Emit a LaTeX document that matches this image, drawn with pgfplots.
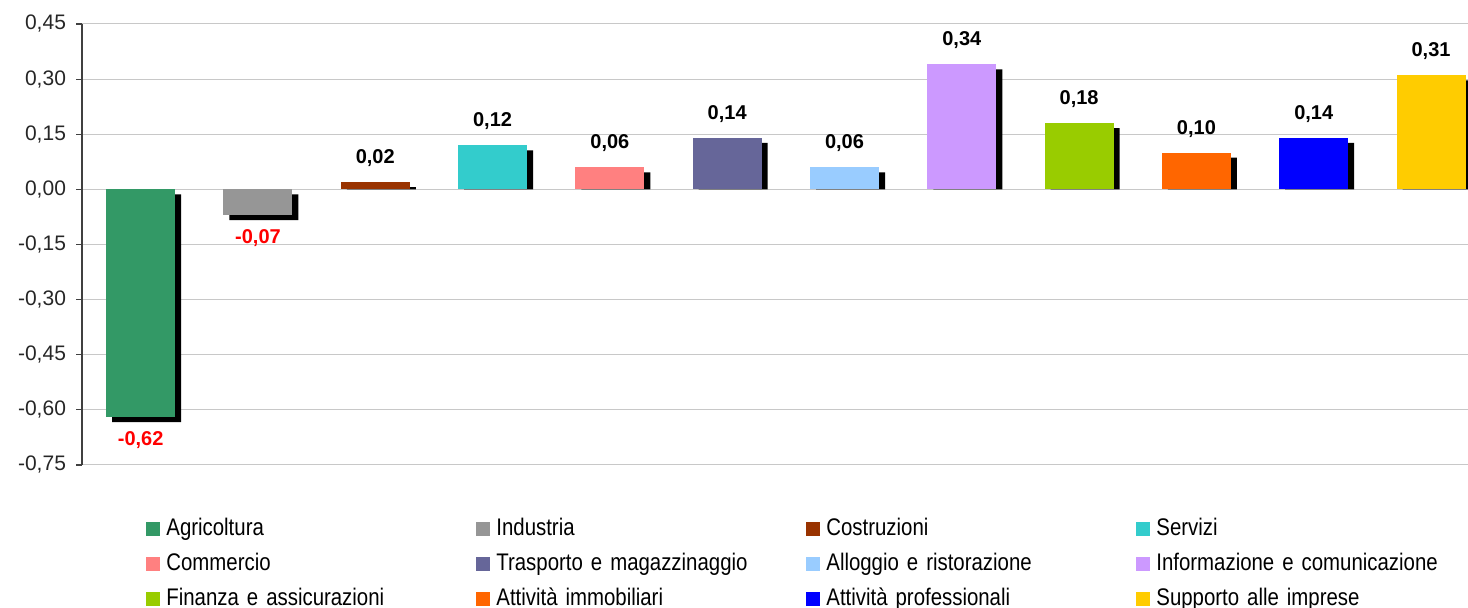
\documentclass[border=0pt]{standalone}
\usepackage{fontspec}
\setmainfont{Liberation Sans}
\newfontfamily\narrowfont{Liberation Sans}[FakeStretch=0.85]
\usepackage{pgfplots}
\pgfplotsset{compat=1.18}

\definecolor{cAgr}{HTML}{339966}
\definecolor{cInd}{HTML}{969696}
\definecolor{cCos}{HTML}{993300}
\definecolor{cSer}{HTML}{33CCCC}
\definecolor{cCom}{HTML}{FF8080}
\definecolor{cTra}{HTML}{666699}
\definecolor{cAll}{HTML}{99CCFF}
\definecolor{cInf}{HTML}{CC99FF}
\definecolor{cFin}{HTML}{99CC00}
\definecolor{cImm}{HTML}{FF6600}
\definecolor{cPro}{HTML}{0000FF}
\definecolor{cSup}{HTML}{FFCC00}
\definecolor{gridgray}{HTML}{C8C8C8}
\definecolor{axisgray}{HTML}{404040}

\newcommand{\valfmt}{\pgfmathprintnumber[fixed,fixed zerofill,precision=2,use comma,assume math mode=true]{\pgfplotspointmeta}}
\pgfplotsset{
  pos/.style={fill=#1, draw=none, nodes near coords={\valfmt},
    every node near coord/.append style={font=\bfseries\fontsize{10}{12}\selectfont,
      anchor=center, yshift=12pt, text=black}},
  neg/.style={fill=#1, draw=none, nodes near coords={\valfmt},
    every node near coord/.append style={font=\bfseries\fontsize{10}{12}\selectfont,
      anchor=center, yshift=-11.5pt, text=red}},
}

\begin{document}
\begin{tikzpicture}
\begin{axis}[
  scale only axis,
  width=693pt, height=220.5pt,
  xmin=0.5, xmax=12.315,
  ymin=-0.75, ymax=0.45,
  ytick={-0.75,-0.6,-0.45,-0.3,-0.15,0,0.15,0.3,0.45},
  yticklabel={\pgfmathprintnumber[fixed,fixed zerofill,precision=2,use comma,assume math mode=true]{\tick}},
  yticklabel style={font=\fontsize{10.5}{12}\selectfont, text=black!85, xshift=-1.5pt},
  axis x line=none,
  axis y line*=left,
  y axis line style={axisgray, line width=0.6pt, -},
  ytick style={axisgray, line width=0.6pt},
  tick align=outside, major tick length=3pt,
  ymajorgrids,
  grid style={gridgray, line width=0.5pt},
  ybar, bar width=34.5pt, bar shift=0pt,
  clip=false,
  legend columns=4,
  legend cell align=left,
  legend image code/.code={\fill[#1, draw=none] (0pt,-3.5pt) rectangle (7pt,3.5pt);},
  legend style={draw=none, fill=none, inner sep=0pt,
    at={(0,0)}, anchor=north west, xshift=32pt, yshift=-26pt,
    row sep=5.5pt,
    font=\narrowfont\fontsize{12}{14}\selectfont,
    nodes={text width=152pt, text height=9pt, text depth=3pt, inner xsep=3pt, inner ysep=0pt}},
]
% shadows
\addplot[fill=black, draw=none, bar shift=3pt, forget plot]
  coordinates {(3,0.0064) (4,0.1064) (5,0.0464) (6,0.1264) (7,0.0464) (8,0.3264) (9,0.1664) (10,0.0864) (11,0.1264) (12,0.2964)};
\addplot[fill=black, draw=none, bar shift=3pt, yshift=-2.5pt, forget plot]
  coordinates {(1,-0.62) (2,-0.07)};
% bars
\addplot[neg=cAgr] coordinates {(1,-0.62)};
\addplot[neg=cInd] coordinates {(2,-0.07)};
\addplot[pos=cCos] coordinates {(3,0.02)};
\addplot[pos=cSer] coordinates {(4,0.12)};
\addplot[pos=cCom] coordinates {(5,0.06)};
\addplot[pos=cTra] coordinates {(6,0.14)};
\addplot[pos=cAll] coordinates {(7,0.06)};
\addplot[pos=cInf] coordinates {(8,0.34)};
\addplot[pos=cFin] coordinates {(9,0.18)};
\addplot[pos=cImm] coordinates {(10,0.10)};
\addplot[pos=cPro] coordinates {(11,0.14)};
\addplot[pos=cSup] coordinates {(12,0.31)};
\legend{Agricoltura, Industria, Costruzioni, Servizi,
  Commercio, Trasporto e magazzinaggio, Alloggio e ristorazione, Informazione e comunicazione,
  Finanza e assicurazioni, Attività immobiliari, Attività professionali, Supporto alle imprese}
\coordinate (bl) at (rel axis cs:0,0);
\coordinate (tr) at (rel axis cs:1,1);
\end{axis}
\pgfresetboundingbox
\path ([shift={(-41pt,-71.5pt)}]bl) rectangle ([shift={(0pt,12pt)}]tr);
\end{tikzpicture}
\end{document}
